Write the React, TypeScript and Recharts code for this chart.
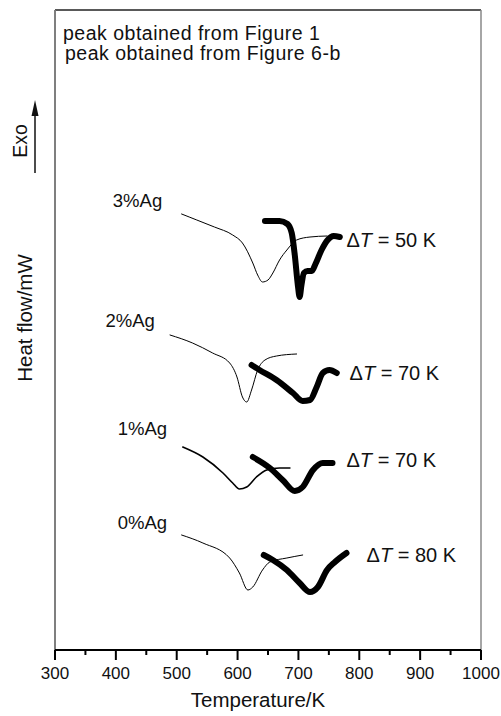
import {
  LineChart,
  Line,
  XAxis,
  YAxis,
  ReferenceLine,
  ReferenceDot,
  Legend,
  Label,
} from "recharts";

const FONT = "Arial, 'Liberation Sans', Helvetica, sans-serif";

// x ticks (K)
const tempTicks = [300, 350, 400, 450, 500, 550, 600, 650, 700, 750, 800, 850, 900, 950, 1000];

// curves: temperature (K) and heat flow (arbitrary, stacked)
const ag3FineT = [508, 533, 562, 592, 608, 625, 633, 641, 650, 658, 669, 681, 697, 719, 747];
const ag3FineHf = [436, 430, 423, 415, 407, 387, 375, 368, 370, 377, 390, 400, 410, 413, 414];
const ag3BoldT = [645, 669, 682, 689, 694, 699, 702, 705, 709, 715, 722, 728, 738, 748, 758, 768];
const ag3BoldHf = [429, 429, 426, 417, 395, 365, 353, 365, 377, 379, 379, 386, 400, 410, 414, 413];

const ag2FineT = [489, 526, 559, 587, 599, 608, 615, 623, 633, 645, 664, 697];
const ag2FineHf = [315, 307, 297, 287, 273, 253, 248, 260, 280, 290, 294, 296];
const ag2BoldT = [623, 636, 664, 691, 707, 719, 730, 740, 751, 763];
const ag2BoldHf = [285, 280, 270, 257, 249, 250, 263, 277, 280, 277];

const ag1FineT = [510, 543, 576, 592, 603, 615, 631, 648, 669, 686];
const ag1FineHf = [203, 193, 177, 167, 161, 163, 173, 180, 182, 182];
const ag1BoldT = [625, 653, 674, 694, 707, 724, 740, 756];
const ag1BoldHf = [193, 182, 170, 159, 163, 180, 187, 187];

const ag0FineT = [508, 543, 587, 603, 617, 625, 641, 653, 681, 707];
const ag0FineHf = [115, 107, 92, 77, 60, 63, 80, 88, 92, 95];
const ag0BoldT = [643, 658, 681, 702, 719, 732, 747, 760, 779];
const ag0BoldHf = [95, 90, 80, 67, 58, 63, 80, 88, 97];

const sampleNames = ["3%Ag", "2%Ag", "1%Ag", "0%Ag"];
const deltaT = [50, 70, 70, 80];

// annotation anchors (data coords)
const nameAtT = [395, 383, 403, 403];
const nameAtHf = [450, 330, 222, 128];
const deltaAtT = [779, 784, 779, 812];
const deltaAtHf = [410, 277, 190, 95];

const legendLines = ["peak obtained from Figure 1", "peak obtained from Figure 6-b"];

const zip = (ts: number[], hs: number[]) => ts.map((t, i) => ({ t, hf: hs[i] }));

const curves = [
  { id: "ag3-fine", data: zip(ag3FineT, ag3FineHf), bold: false },
  { id: "ag3-bold", data: zip(ag3BoldT, ag3BoldHf), bold: true },
  { id: "ag2-fine", data: zip(ag2FineT, ag2FineHf), bold: false },
  { id: "ag2-bold", data: zip(ag2BoldT, ag2BoldHf), bold: true },
  { id: "ag1-fine", data: zip(ag1FineT, ag1FineHf), bold: false, mid: true },
  { id: "ag1-bold", data: zip(ag1BoldT, ag1BoldHf), bold: true },
  { id: "ag0-fine", data: zip(ag0FineT, ag0FineHf), bold: false },
  { id: "ag0-bold", data: zip(ag0BoldT, ag0BoldHf), bold: true },
];

const TempTick = (props: any) => {
  const { x, y, payload } = props;
  const major = payload.value % 100 === 0;
  return (
    <g>
      <line x1={x} x2={x} y1={y} y2={y + (major ? 10 : 5)} stroke="#000" strokeWidth={2} />
      {major && (
        <text x={x} y={y + 29} textAnchor="middle" fontSize={17} fontFamily={FONT} fill="#111">
          {payload.value}
        </text>
      )}
    </g>
  );
};

// left frame line, y title and "Exo" arrow, hung off the x=300 reference line
const LeftFrame = (props: any) => {
  const { x, y, height } = props.viewBox;
  const cx = x - 31;
  const cy = y + 308;
  const ex = x - 35;
  const ey = y + 131;
  return (
    <g fontFamily={FONT} fill="#111">
      <line x1={x} x2={x} y1={y} y2={y + height} stroke="#777" strokeWidth={1.5} />
      <text
        x={cx}
        y={cy}
        transform={`rotate(-90 ${cx} ${cy})`}
        textAnchor="middle"
        dominantBaseline="central"
        fontSize={20.5}
      >
        Heat flow/mW
      </text>
      <text
        x={ex}
        y={ey}
        transform={`rotate(-90 ${ex} ${ey})`}
        textAnchor="middle"
        dominantBaseline="central"
        fontSize={19.5}
      >
        Exo
      </text>
      <line x1={x - 20} x2={x - 20} y1={y + 104} y2={y + 163} stroke="#111" strokeWidth={1.5} />
      <path d={`M ${x - 20} ${y + 90} L ${x - 23.5} ${y + 106} L ${x - 16.5} ${y + 106} Z`} fill="#111" />
    </g>
  );
};

const XTitle = (props: any) => {
  const { x, y, width } = props.viewBox;
  return (
    <text x={x + width / 2 - 10} y={y + 57} textAnchor="middle" fontSize={20.5} fontFamily={FONT} fill="#111">
      Temperature/K
    </text>
  );
};

const NameText = (text: string) => (props: any) => (
  <text x={props.cx} y={props.cy} dominantBaseline="central" fontSize={18.5} fontFamily={FONT} fill="#111">
    {text}
  </text>
);

const DeltaText = (value: number) => (props: any) => (
  <text x={props.cx} y={props.cy} dominantBaseline="central" fontSize={20} fontFamily={FONT} fill="#111">
    Δ<tspan fontStyle="italic">T</tspan> = {value} K
  </text>
);

const LegendBox = () => (
  <div style={{ fontFamily: FONT, fontSize: 19.5, color: "#111", lineHeight: "20px", letterSpacing: 0.5 }}>
    {legendLines.map((s, i) => (
      <div key={s} style={{ paddingLeft: i * 2 }}>
        {s}
      </div>
    ))}
  </div>
);

export default function App() {
  return (
    <div style={{ position: "absolute", left: 0, top: 0, background: "#fff" }}>
      <LineChart width={501} height={716} margin={{ top: 10, right: 20, bottom: 36, left: 55 }}>
        <XAxis
          dataKey="t"
          type="number"
          domain={[300, 1000]}
          ticks={tempTicks}
          interval={0}
          height={30}
          tickSize={0}
          tickMargin={0}
          tickLine={false}
          tick={<TempTick />}
          axisLine={{ stroke: "#000", strokeWidth: 2 }}
        >
          <Label content={<XTitle />} />
        </XAxis>
        <YAxis type="number" domain={[0, 640]} hide />
        <ReferenceLine y={640} stroke="#222" strokeWidth={1.5} />
        <ReferenceLine x={1000} stroke="#888" strokeWidth={1.5} />
        <ReferenceLine x={300} stroke="#777" strokeWidth={1.5} label={<LeftFrame />} />
        <Legend
          layout="vertical"
          align="center"
          verticalAlign="middle"
          content={<LegendBox />}
          wrapperStyle={{ top: 23, left: 63, width: "auto" }}
        />
        {curves.map((c) => (
          <Line
            key={c.id}
            data={c.data}
            dataKey="hf"
            type="monotone"
            stroke="#000"
            strokeWidth={c.bold ? 6 : c.mid ? 1.6 : 1}
            strokeLinecap="round"
            strokeLinejoin="round"
            dot={false}
            activeDot={false}
            legendType="none"
            isAnimationActive={false}
          />
        ))}
        {sampleNames.map((n, i) => (
          <ReferenceDot key={n} x={nameAtT[i]} y={nameAtHf[i]} r={0} shape={NameText(n)} />
        ))}
        {deltaT.map((d, i) => (
          <ReferenceDot key={"d" + i} x={deltaAtT[i]} y={deltaAtHf[i]} r={0} shape={DeltaText(d)} />
        ))}
      </LineChart>
    </div>
  );
}
